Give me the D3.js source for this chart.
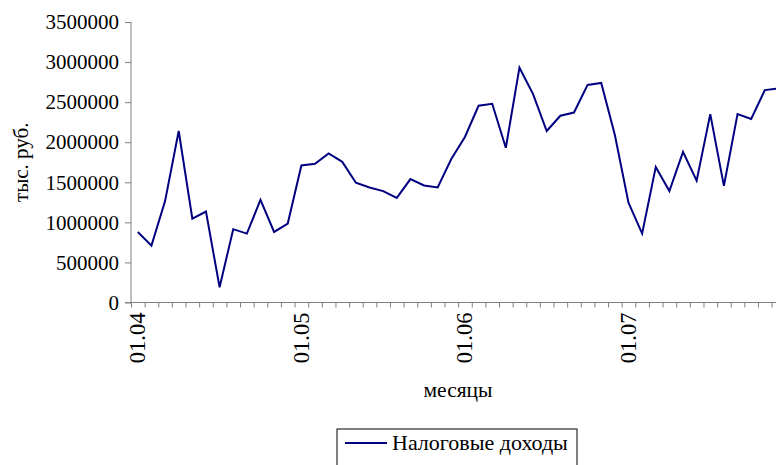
<!DOCTYPE html>
<html lang="ru">
<head>
    <meta charset="utf-8">
    <title>Налоговые доходы</title>
    <script src="https://d3js.org/d3.v7.min.js"></script>
    <style type="text/css">
        body { margin: 0; background: #fff; }
        .axis path, .axis line { stroke: #808080; }
    </style>
</head>
<body>
<script type="text/javascript">
    //Width and height
    var w = 776;
    var h = 465;
    var serif = "'Liberation Serif', 'Times New Roman', Times, serif";

    //months, MM.YY
    var months = [
        "01.04","02.04","03.04","04.04","05.04","06.04","07.04","08.04","09.04","10.04","11.04","12.04",
        "01.05","02.05","03.05","04.05","05.05","06.05","07.05","08.05","09.05","10.05","11.05","12.05",
        "01.06","02.06","03.06","04.06","05.06","06.06","07.06","08.06","09.06","10.06","11.06","12.06",
        "01.07","02.07","03.07","04.07","05.07","06.07","07.07","08.07","09.07","10.07","11.07","12.07"
    ];
    //тыс. руб.
    var taxIncome = [
        880000, 710000, 1265000, 2140000, 1045000, 1135000, 190000, 915000, 860000, 1280000, 880000, 985000,
        1710000, 1730000, 1860000, 1755000, 1495000, 1435000, 1390000, 1305000, 1540000, 1460000, 1435000, 1790000,
        2065000, 2455000, 2480000, 1930000, 2930000, 2600000, 2140000, 2330000, 2370000, 2715000, 2740000, 2090000,
        1245000, 860000, 1690000, 1390000, 1880000, 1520000, 2350000, 1455000, 2350000, 2290000, 2650000, 2670000
    ];
    var yTicks = [0, 500000, 1000000, 1500000, 2000000, 2500000, 3000000, 3500000];
    var labelMonths = ["01.04", "01.05", "01.06", "01.07"];
    var seriesName = "Налоговые доходы";

    var plotLeft = 131, plotTop = 22, plotBottom = 302.5, step = 13.63;

    var xScale = d3.scaleLinear()
        .domain([0, months.length])
        .range([plotLeft, plotLeft + months.length * step]);
    var yScale = d3.scaleLinear()
        .domain([0, 3500000])
        .range([plotBottom, plotTop]);

    var svg = d3.select("body")
        .append("svg")
        .attr("width", w)
        .attr("height", h)
        .attr("font-family", serif);

    //Y axis
    var yAxis = d3.axisLeft(yScale)
        .tickValues(yTicks)
        .tickSize(6)
        .tickPadding(6)
        .tickFormat(d3.format("d"));
    var gy = svg.append("g")
        .attr("class", "axis")
        .attr("transform", "translate(" + plotLeft + ",0)")
        .call(yAxis)
        .attr("font-family", serif)
        .attr("font-size", "21px");
    gy.select(".domain").attr("d", "M0," + plotTop + "V" + plotBottom);
    gy.selectAll("text").attr("fill", "#000");

    //X axis, ticks between months
    var xAxis = d3.axisBottom(xScale)
        .tickValues(d3.range(months.length + 1))
        .tickSize(5)
        .tickFormat("");
    var gx = svg.append("g")
        .attr("class", "axis")
        .attr("transform", "translate(0," + plotBottom + ")")
        .call(xAxis);
    gx.select(".domain").attr("d", "M" + (plotLeft - 6) + ",0H" + xScale(months.length));

    //month labels
    svg.append("g")
        .selectAll("text")
        .data(labelMonths)
        .enter()
        .append("text")
        .attr("transform", function(d) {
            var i = months.indexOf(d);
            return "translate(" + (xScale(i + 0.5) + 7.5) + "," + (plotBottom + 10) + ") rotate(-90)";
        })
        .attr("text-anchor", "end")
        .attr("font-size", "22.5px")
        .text(function(d) { return d; });

    //line
    var line = d3.line()
        .x(function(d, i) { return xScale(i + 0.5); })
        .y(function(d) { return yScale(d); });
    svg.append("path")
        .datum(taxIncome)
        .attr("d", line)
        .attr("fill", "none")
        .attr("stroke", "#000080")
        .attr("stroke-width", 2)
        .attr("stroke-linejoin", "miter");

    //axis titles
    svg.append("text")
        .attr("x", 458)
        .attr("y", 397)
        .attr("text-anchor", "middle")
        .attr("font-size", "21.5px")
        .text("месяцы");
    svg.append("text")
        .attr("transform", "translate(28," + ((plotTop + plotBottom) / 2) + ") rotate(-90)")
        .attr("text-anchor", "middle")
        .attr("font-size", "21px")
        .text("тыс. руб.");

    //legend
    var lg = svg.append("g").attr("transform", "translate(337,429)");
    lg.append("rect")
        .attr("width", 240)
        .attr("height", 40)
        .attr("fill", "#fff")
        .attr("stroke", "#000")
        .attr("stroke-width", 1);
    lg.append("line")
        .attr("x1", 8).attr("x2", 50)
        .attr("y1", 14).attr("y2", 14)
        .attr("stroke", "#000080")
        .attr("stroke-width", 2);
    lg.append("text")
        .attr("x", 55)
        .attr("y", 21)
        .attr("font-size", "22px")
        .text(seriesName);
</script>
</body>
</html>
